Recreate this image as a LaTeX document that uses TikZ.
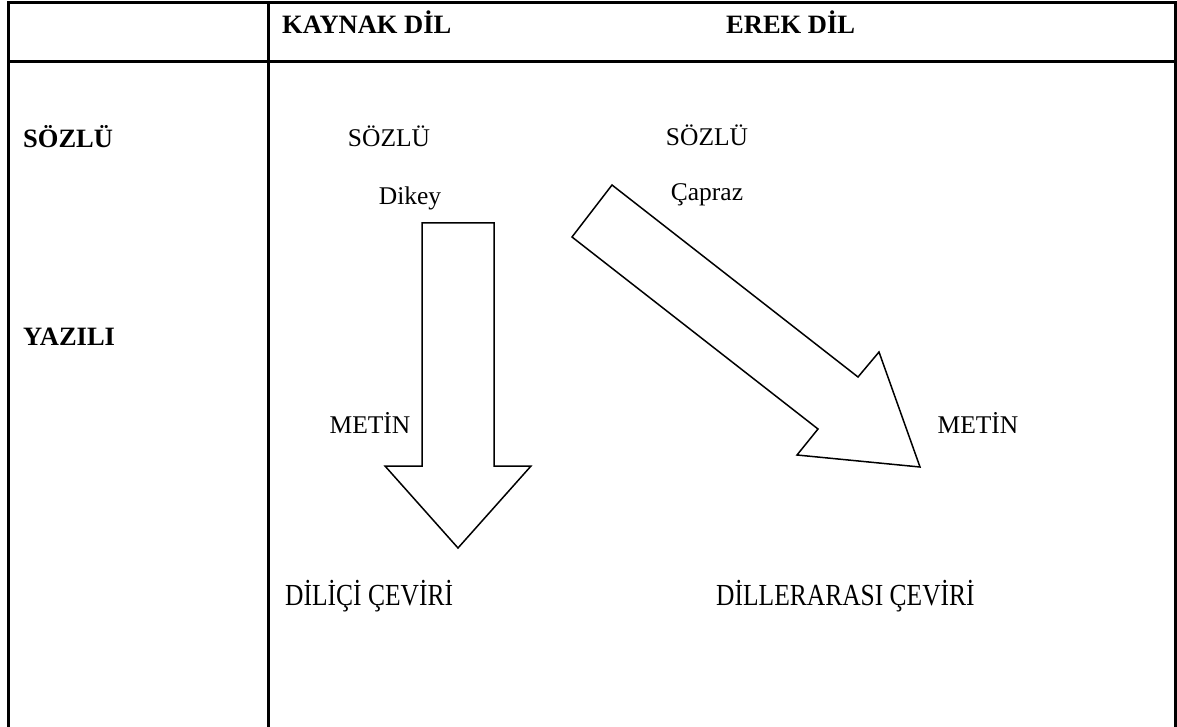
\documentclass[tikz,border=0pt]{standalone}
\usepackage{fontspec}
\usepackage{graphicx}
\setmainfont{Liberation Serif}
\begin{document}
\begin{tikzpicture}[x=1pt,y=-1pt,
  rule/.style={line width=3pt},
  blockarrow/.style={draw,line width=1.5pt,line join=miter},
  head/.style={font=\fontsize{26.5}{30}\selectfont\bfseries,inner sep=0pt,anchor=west},
  lbl/.style={font=\fontsize{25.5}{29}\selectfont,inner sep=0pt}]
\useasboundingbox (0,0) rectangle (1177,727);
% table frame
\draw[rule] (8,727) -- (8,3) -- (1175,3) -- (1175,727);
\draw[rule] (8,62) -- (1175,62);
\draw[rule] (268,3) -- (268,727);
% header row and row labels
\node[head] (kaynak) at (282,22) {KAYNAK DİL};
\node[head] (erek) at (726,22) {EREK DİL};
\node[head] (sozlu) at (23,137) {SÖZLÜ};
\node[head] (yazili) at (23,337) {YAZILI};
% cell texts
\node[lbl] (ks) at (389,136) {SÖZLÜ};
\node[lbl] (es) at (707,135) {SÖZLÜ};
\node[lbl] (dikey) at (410,198) {Dikey};
\node[lbl] (capraz) at (707,195) {Çapraz};
\node[lbl] (kmetin) at (370,423) {METİN};
\node[lbl] (emetin) at (978,423) {METİN};
% bottom captions, set a little taller than wide
\node[lbl,anchor=west] (dilici) at (285,596) {\scalebox{1}[1.2]{DİLİÇİ ÇEVİRİ}};
\node[lbl,anchor=west] (dillerarasi) at (716,596) {\scalebox{1}[1.2]{DİLLERARASI ÇEVİRİ}};
% vertical block arrow
\draw[blockarrow] (422,223) -- (494,223) -- (494,466) -- (531,466) -- (458,548)
  -- (385,466) -- (422,466) -- cycle;
% diagonal block arrow
\draw[blockarrow] (612,185) -- (858,377) -- (879,352) -- (920,467) -- (797,455)
  -- (818,429) -- (572,237) -- cycle;
\end{tikzpicture}
\end{document}
